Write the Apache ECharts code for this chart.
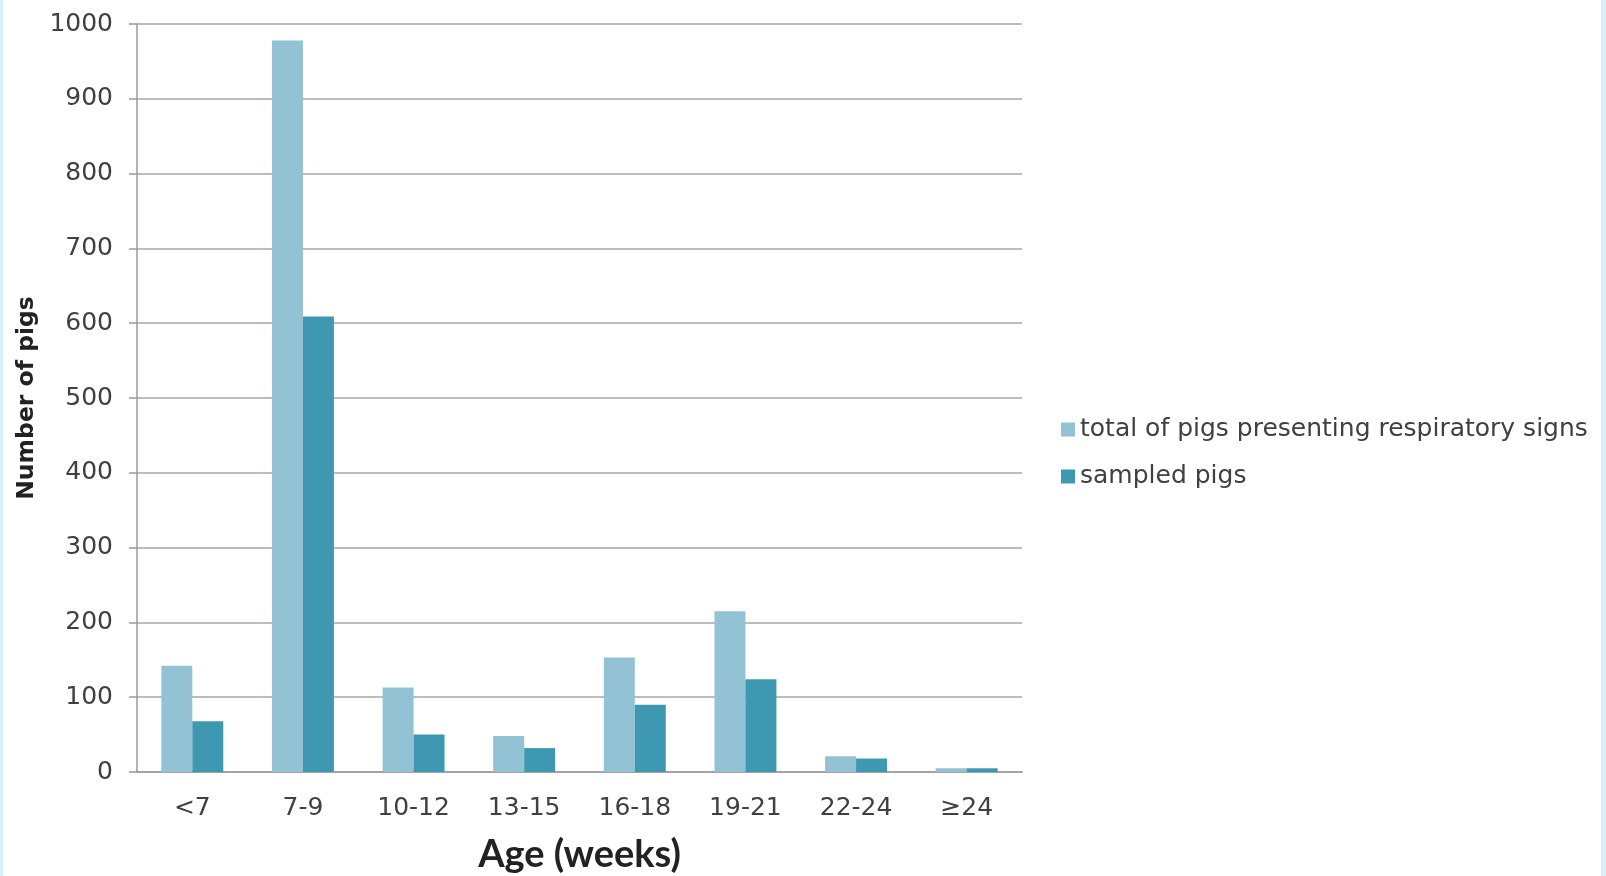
<!DOCTYPE html>
<html>
<head>
<meta charset="utf-8">
<script src="https://cdn.jsdelivr.net/npm/echarts@6/dist/echarts.min.js"></script>
<style>
  html, body { margin: 0; padding: 0; width: 1606px; height: 876px; background: #d8eef8; overflow: hidden; }
  #chart { position: absolute; left: 3px; top: 0; width: 1598px; height: 876px; background: #ffffff; }
</style>
</head>
<body>
<div id="chart"></div>
<script>
const categories = ['<7', '7-9', '10-12', '13-15', '16-18', '19-21', '22-24', '≥24'];
const totalPigs = [142, 978, 113, 48, 153, 215, 21, 5];
const sampledPigs = [68, 609, 50, 32, 90, 124, 18, 5];
const yTicks = { min: 0, max: 1000, interval: 100 };
const seriesNames = ['total of pigs presenting respiratory signs', 'sampled pigs'];
const colors = ['#93c2d5', '#3e98b1'];

const chart = echarts.init(document.getElementById('chart'), null, { renderer: 'canvas' });
const labelFont = '"DejaVu Sans", sans-serif';
chart.setOption({
  animation: false,
  backgroundColor: '#ffffff',
  color: colors,
  grid: { left: 134, right: 579, top: 24, bottom: 104, containLabel: false, outerBoundsMode: 'none' },
  legend: {
    orient: 'vertical',
    left: 1053,
    top: 412,
    itemWidth: 14,
    itemHeight: 14,
    itemGap: 22,
    icon: 'rect',
    textStyle: { fontFamily: labelFont, fontSize: 25, color: '#404040', padding: [0, 0, 0, 0] },
    data: seriesNames
  },
  xAxis: {
    type: 'category',
    data: categories,
    name: 'Age (weeks)',
    nameLocation: 'middle',
    nameGap: 64,
    nameTextStyle: { fontFamily: 'Lato, sans-serif', fontWeight: 'bold', fontSize: 38, color: '#222222' },
    axisLine: { lineStyle: { color: '#9a9a9a', width: 1.5 } },
    axisTick: { show: false },
    axisLabel: { fontFamily: labelFont, fontSize: 25, color: '#404040', margin: 24 }
  },
  yAxis: {
    type: 'value',
    min: yTicks.min,
    max: yTicks.max,
    interval: yTicks.interval,
    name: 'Number of pigs',
    nameLocation: 'middle',
    nameGap: 93,
    nameTextStyle: { fontFamily: labelFont, fontWeight: 'bold', fontSize: 23.5, color: '#222222' },
    axisLine: { show: true, lineStyle: { color: '#9a9a9a', width: 1.5 } },
    axisTick: { show: true, length: 8, lineStyle: { color: '#9a9a9a', width: 1.5 } },
    splitLine: { lineStyle: { color: '#a6a6a6', width: 1.5 } },
    axisLabel: { fontFamily: labelFont, fontSize: 25, color: '#404040', margin: 24, formatter: function (v) { return String(v); } }
  },
  series: [
    { name: seriesNames[0], type: 'bar', data: totalPigs, barGap: '0%', barCategoryGap: '44%', itemStyle: { color: colors[0] } },
    { name: seriesNames[1], type: 'bar', data: sampledPigs, barGap: '0%', barCategoryGap: '44%', itemStyle: { color: colors[1] } }
  ]
});
</script>
</body>
</html>
